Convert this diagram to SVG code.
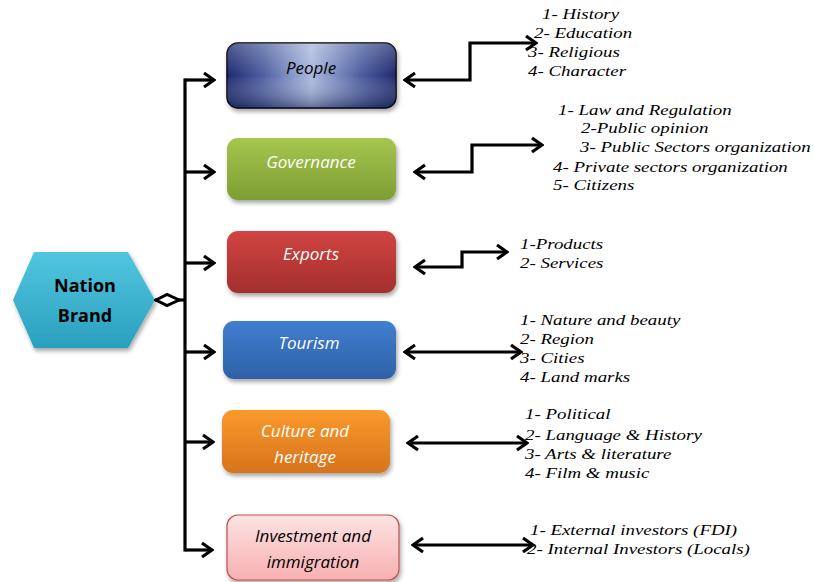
<svg xmlns="http://www.w3.org/2000/svg" width="814" height="582" viewBox="0 0 814 582">
<style>
.lbl{font-family:"Open Sans","DejaVu Sans",sans-serif;font-style:italic;font-size:17px;text-anchor:middle}
.w{fill:#ffffff}
.k{fill:#000000}
.hex{font-family:"Open Sans","DejaVu Sans",sans-serif;font-weight:bold;font-size:18px;text-anchor:middle;fill:#000}
.li{font-family:"Liberation Serif","Times New Roman",serif;font-style:italic;font-size:15.5px;fill:#000}
.ln{fill:none;stroke:#000;stroke-width:3.2}
</style>
<defs>
<marker id="ah" markerUnits="userSpaceOnUse" viewBox="-14 -10 16 20" refX="0" refY="0" markerWidth="16" markerHeight="20" orient="auto-start-reverse">
<path d="M-10,-7 L0,0 L-10,7" fill="none" stroke="#000" stroke-width="3.2"/>
</marker>
<marker id="dm" markerUnits="userSpaceOnUse" viewBox="-1 -8 28 16" refX="0" refY="0" markerWidth="28" markerHeight="16" orient="auto">
<path d="M1,0 L12,-5.5 L24,0 L12,5.5 Z" fill="#fff" stroke="#000" stroke-width="3"/>
</marker>
<filter id="sh" x="-10%" y="-10%" width="125%" height="140%">
<feDropShadow dx="1.5" dy="3" stdDeviation="2" flood-color="#000" flood-opacity="0.35"/>
</filter>
<linearGradient id="gPeopleH" x1="0" y1="0" x2="1" y2="0">
<stop offset="0" stop-color="#1e2a6e"/>
<stop offset="0.2" stop-color="#4a5c9e"/>
<stop offset="0.5" stop-color="#a9b8de"/>
<stop offset="0.8" stop-color="#4a5c9e"/>
<stop offset="1" stop-color="#1e2a6e"/>
</linearGradient>
<linearGradient id="gPeopleV" x1="0" y1="0" x2="0" y2="1">
<stop offset="0" stop-color="#ffffff" stop-opacity="0.25"/>
<stop offset="0.5" stop-color="#ffffff" stop-opacity="0"/>
<stop offset="1" stop-color="#0a1440" stop-opacity="0.45"/>
</linearGradient>
<linearGradient id="gGov" x1="0" y1="0" x2="0" y2="1">
<stop offset="0" stop-color="#a6c64d"/>
<stop offset="1" stop-color="#7c9e33"/>
</linearGradient>
<linearGradient id="gExp" x1="0" y1="0" x2="0" y2="1">
<stop offset="0" stop-color="#d24442"/>
<stop offset="1" stop-color="#a32f2d"/>
</linearGradient>
<linearGradient id="gTou" x1="0" y1="0" x2="0" y2="1">
<stop offset="0" stop-color="#417ed0"/>
<stop offset="1" stop-color="#2e61a6"/>
</linearGradient>
<linearGradient id="gCul" x1="0" y1="0" x2="0" y2="1">
<stop offset="0" stop-color="#f99a2c"/>
<stop offset="1" stop-color="#d8731b"/>
</linearGradient>
<linearGradient id="gInv" x1="0" y1="0" x2="0" y2="1">
<stop offset="0" stop-color="#fde3e3"/>
<stop offset="1" stop-color="#f7b0b0"/>
</linearGradient>
<linearGradient id="gHex" x1="0" y1="0" x2="0" y2="1">
<stop offset="0" stop-color="#52c6e0"/>
<stop offset="1" stop-color="#2a9fbe"/>
</linearGradient>
</defs>
<rect width="814" height="582" fill="#ffffff"/>

<g id="nation-brand">
<polygon points="13,300 34,252 128,252 155,300 128,348 34,348" fill="url(#gHex)" filter="url(#sh)"/>
<text class="hex" x="85" y="292">Nation</text>
<text class="hex" x="85" y="322">Brand</text>
</g>

<g id="people">
<rect x="227" y="43" width="169" height="65" rx="11" fill="url(#gPeopleH)" stroke="#000" stroke-width="1.5" filter="url(#sh)"/>
<rect x="227" y="43" width="169" height="65" rx="11" fill="url(#gPeopleV)"/>
<text class="lbl k" x="311" y="74">People</text>
</g>

<g id="governance">
<rect x="227" y="138" width="169" height="62" rx="11" fill="url(#gGov)" filter="url(#sh)"/>
<text class="lbl w" x="311" y="168">Governance</text>
</g>

<g id="exports">
<rect x="227" y="231" width="169" height="62" rx="11" fill="url(#gExp)" filter="url(#sh)"/>
<text class="lbl w" x="311" y="260">Exports</text>
</g>

<g id="tourism">
<rect x="223" y="321" width="173" height="58" rx="11" fill="url(#gTou)" filter="url(#sh)"/>
<text class="lbl w" x="309" y="349">Tourism</text>
</g>

<g id="culture">
<rect x="222" y="410" width="168" height="63" rx="11" fill="url(#gCul)" filter="url(#sh)"/>
<text class="lbl w" x="305" y="437">Culture and</text>
<text class="lbl w" x="305" y="463">heritage</text>
</g>

<g id="investment">
<rect x="227" y="515" width="172" height="65" rx="11" fill="url(#gInv)" stroke="#c0504d" stroke-width="1.2" filter="url(#sh)"/>
<text class="lbl k" x="313" y="542">Investment and</text>
<text class="lbl k" x="313" y="568">immigration</text>
</g>

<g id="connectors">
<path class="ln" d="M155,300 L184,300" marker-start="url(#dm)"/>
<path class="ln" d="M185,78.4 L185,551.6"/>
<path class="ln" d="M185,80 L214,80" marker-end="url(#ah)"/>
<path class="ln" d="M185,172 L214,172" marker-end="url(#ah)"/>
<path class="ln" d="M185,263 L214,263" marker-end="url(#ah)"/>
<path class="ln" d="M185,352 L214,352" marker-end="url(#ah)"/>
<path class="ln" d="M185,442 L213,442" marker-end="url(#ah)"/>
<path class="ln" d="M185,550 L212,550" marker-end="url(#ah)"/>

<path class="ln" d="M405,80 L470,80 L470,43 L536,43" marker-start="url(#ah)" marker-end="url(#ah)"/>
<path class="ln" d="M415,172 L472,172 L472,145 L542,145" marker-start="url(#ah)" marker-end="url(#ah)"/>
<path class="ln" d="M415,267 L462,267 L462,252 L507,252" marker-start="url(#ah)" marker-end="url(#ah)"/>
<path class="ln" d="M405,352 L521,352" marker-start="url(#ah)" marker-end="url(#ah)"/>
<path class="ln" d="M408,443 L527,443" marker-start="url(#ah)" marker-end="url(#ah)"/>
<path class="ln" d="M413,545 L533,545" marker-start="url(#ah)" marker-end="url(#ah)"/>
</g>

<g id="people-list">
<text class="li" transform="translate(542 19) scale(1.22 1)">1- History</text>
<text class="li" transform="translate(534 38) scale(1.22 1)">2- Education</text>
<text class="li" transform="translate(528 57) scale(1.22 1)">3- Religious</text>
<text class="li" transform="translate(528 76) scale(1.22 1)">4- Character</text>
</g>

<g id="governance-list">
<text class="li" transform="translate(558 115) scale(1.22 1)">1- Law and Regulation</text>
<text class="li" transform="translate(581 133) scale(1.22 1)">2-Public opinion</text>
<text class="li" transform="translate(580 152) scale(1.22 1)">3- Public Sectors organization</text>
<text class="li" transform="translate(553 172) scale(1.22 1)">4- Private sectors organization</text>
<text class="li" transform="translate(553 190) scale(1.22 1)">5- Citizens</text>
</g>

<g id="exports-list">
<text class="li" transform="translate(520 249) scale(1.22 1)">1-Products</text>
<text class="li" transform="translate(520 268) scale(1.22 1)">2- Services</text>
</g>

<g id="tourism-list">
<text class="li" transform="translate(520 325) scale(1.22 1)">1- Nature and beauty</text>
<text class="li" transform="translate(520 344) scale(1.22 1)">2- Region</text>
<text class="li" transform="translate(520 363) scale(1.22 1)">3- Cities</text>
<text class="li" transform="translate(520 382) scale(1.22 1)">4- Land marks</text>
</g>

<g id="culture-list">
<text class="li" transform="translate(525 419) scale(1.22 1)">1- Political</text>
<text class="li" transform="translate(525 440) scale(1.22 1)">2- Language &amp; History</text>
<text class="li" transform="translate(525 459) scale(1.22 1)">3- Arts &amp; literature</text>
<text class="li" transform="translate(525 478) scale(1.22 1)">4- Film &amp; music</text>
</g>

<g id="investment-list">
<text class="li" transform="translate(530 535) scale(1.22 1)">1- External investors (FDI)</text>
<text class="li" transform="translate(527 554) scale(1.22 1)">2- Internal Investors (Locals)</text>
</g>
</svg>
